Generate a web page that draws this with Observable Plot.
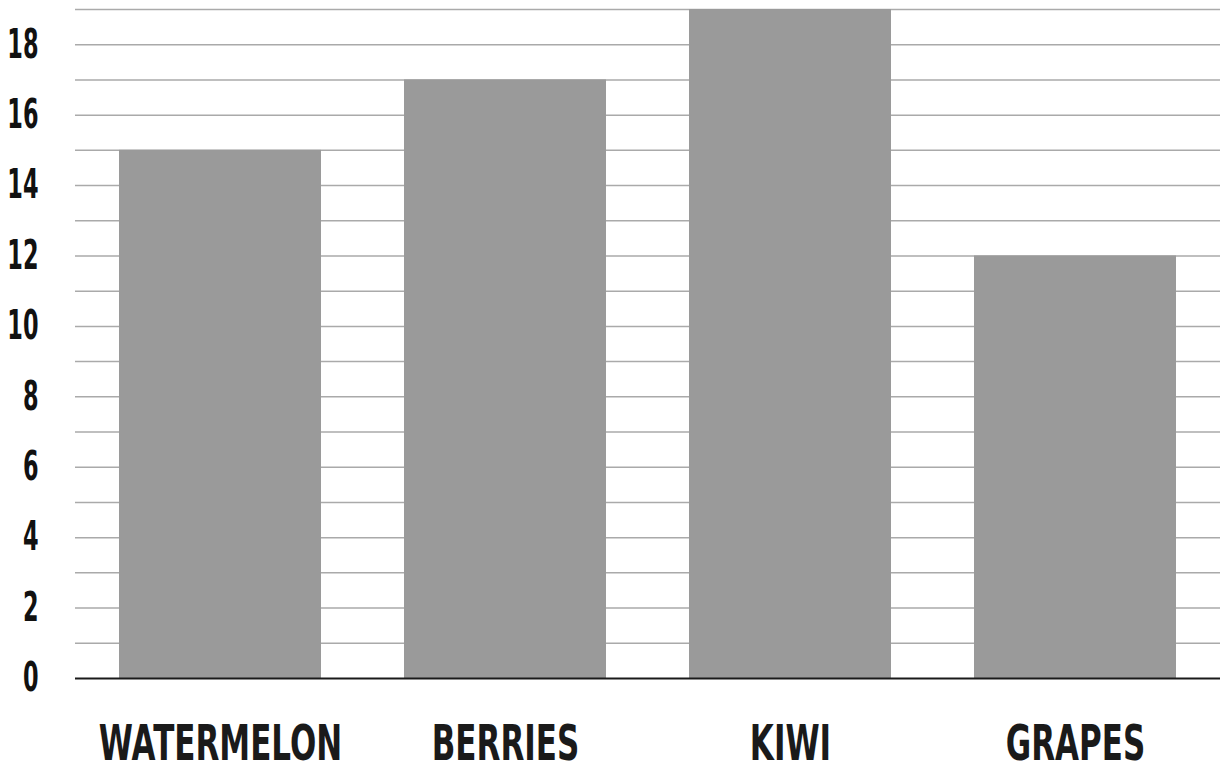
<!DOCTYPE html>
<html>
<head>
<meta charset="utf-8">
<script src="https://cdn.jsdelivr.net/npm/d3@7"></script>
<script src="https://cdn.jsdelivr.net/npm/@observablehq/plot@0.6"></script>
<style>
  html, body { margin: 0; padding: 0; background: #fff; }
  #chart svg { display: block; }
</style>
</head>
<body>
<div id="chart"></div>
<script>
// Favourite fruit counts
const fruits = ["WATERMELON", "BERRIES", "KIWI", "GRAPES"];
const counts = [15, 17, 19, 12];
const gridValues = d3.range(1, 20);
const yTicks = [0, 2, 4, 6, 8, 10, 12, 14, 16, 18];

const data = fruits.map((f, i) => ({fruit: f, count: counts[i]}));

const chart = Plot.plot({
  width: 1220,
  height: 772,
  marginTop: 9,
  marginBottom: 94,
  marginLeft: 75,
  marginRight: 0,
  x: {domain: fruits, paddingInner: 0.29, paddingOuter: 0.15, label: null},
  y: {domain: [0, 19], label: null},
  marks: [
    Plot.ruleY(gridValues, {stroke: "#aaaaaa", strokeWidth: 1.5}),
    Plot.barY(data, {x: "fruit", y: "count", fill: "#9a9a9a"}),
    Plot.ruleY([0], {stroke: "#1a1a1a", strokeWidth: 2}),
    Plot.axisY(yTicks, {
      tickSize: 0, tickPadding: 37, fontSize: 40, fontWeight: 600,
      fontFamily: "DejaVu Sans, sans-serif",
      fill: "#111", label: null, className: "count-axis"
    }),
    Plot.axisX({
      tickSize: 0, tickPadding: 46, fontSize: 50, fontWeight: "bold",
      fontFamily: "DejaVu Sans, sans-serif",
      fill: "#1a1a1a", label: null, className: "fruit-axis"
    })
  ]
});

// Squeeze the label glyphs horizontally for a tall, narrow lettering
function narrow(selector, sx) {
  chart.querySelectorAll(selector + " text").forEach((t) => {
    const tr = t.getAttribute("transform");
    if (tr) {
      t.setAttribute("transform", `${tr} scale(${sx},1)`);
    } else {
      const x = +t.getAttribute("x") || 0;
      const y = +t.getAttribute("y") || 0;
      t.removeAttribute("x");
      t.removeAttribute("y");
      t.setAttribute("transform", `translate(${x},${y}) scale(${sx},1)`);
    }
  });
}
narrow(".fruit-axis", 0.62);
narrow(".count-axis", 0.56);

document.getElementById("chart").appendChild(chart);
</script>
</body>
</html>
